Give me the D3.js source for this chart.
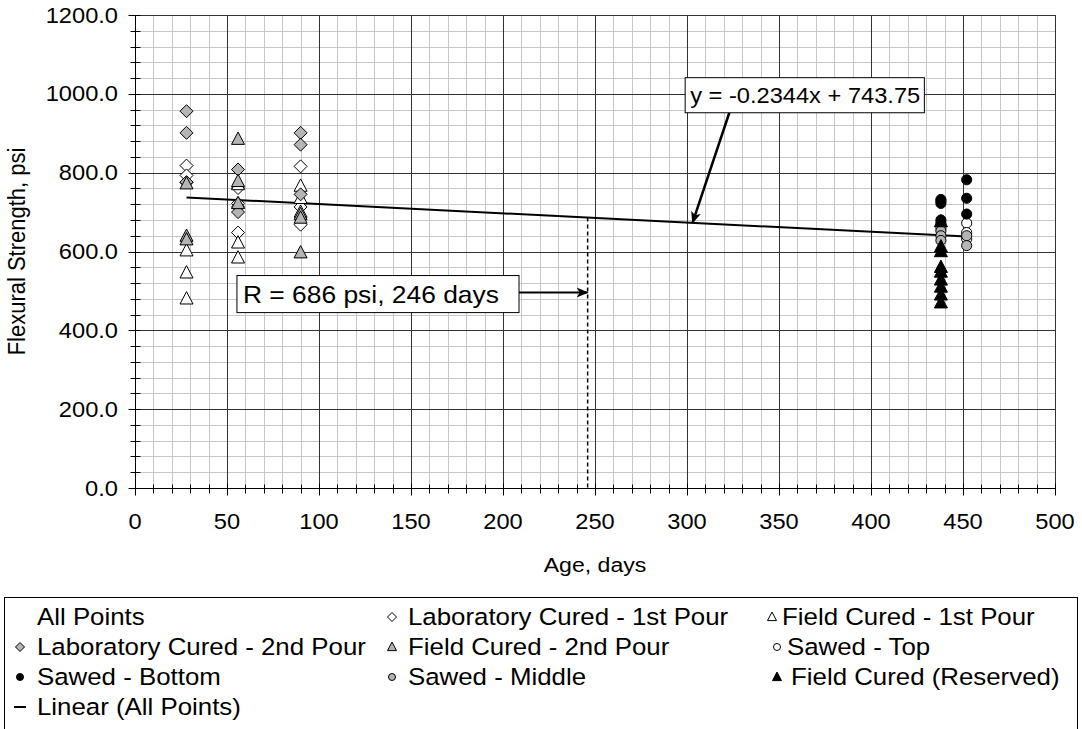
<!DOCTYPE html>
<html>
<head>
<meta charset="utf-8">
<script src="https://cdn.jsdelivr.net/npm/d3@7"></script>
<style>
  html, body { margin: 0; padding: 0; background: #fff; }
  svg { display: block; font-family: "Liberation Sans", Arial, sans-serif; }
</style>
</head>
<body>
<svg id="chart" width="1082" height="729"></svg>
<script>
// ---- Data: [age in days, flexural strength in psi] ----
const labCured1st   = [[28, 818], [28, 793], [28, 775], [56, 761], [56, 722], [56, 648], [90, 816], [90, 713], [90, 668]];
const fieldCured1st = [[28, 602], [28, 546], [28, 480], [56, 770], [56, 622], [56, 584], [90, 766], [90, 735], [90, 700]];
const labCured2nd   = [[28, 956], [28, 901], [28, 776], [56, 808], [56, 713], [56, 700], [90, 901], [90, 871], [90, 745]];
const fieldCured2nd = [[28, 772], [28, 639], [28, 630], [56, 885], [56, 778], [56, 722], [90, 694], [90, 685], [90, 597]];
const sawedTop      = [[438, 728], [438, 660], [452, 672], [452, 648], [452, 632]];
const sawedBottom   = [[438, 732], [438, 722], [438, 680], [438, 672], [452, 782], [452, 735], [452, 695]];
const sawedMiddle   = [[438, 652], [438, 640], [438, 628], [452, 640], [452, 615]];
const fieldReserved = [[438, 676], [438, 612], [438, 600], [438, 560], [438, 548], [438, 528], [438, 510], [438, 490], [438, 470]];

// Linear trend of all points, as stated on the chart
const trendSlope = -0.2344;
const trendIntercept = 743.75;
const trendRange = [28, 452];
const equationLabel = "y = -0.2344x + 743.75";

// Retention point
const retentionStrength = 686;
const retentionAge = 246;
const retentionLabel = "R = 686 psi, 246 days";

// Axes
const xTicks = [0, 50, 100, 150, 200, 250, 300, 350, 400, 450, 500];
const yTicks = [0, 200, 400, 600, 800, 1000, 1200];
const xMinorStep = 10;
const yMinorStep = 40;
const xTitle = "Age, days";
const yTitle = "Flexural Strength, psi";

// Legend entries, laid out row by row in three columns
const legendItems = [
  { name: "All Points", marker: null },
  { name: "Laboratory Cured - 1st Pour", marker: "diamondWhite" },
  { name: "Field Cured - 1st Pour", marker: "triangleWhite" },
  { name: "Laboratory Cured - 2nd Pour", marker: "diamondGray" },
  { name: "Field Cured - 2nd Pour", marker: "triangleGray" },
  { name: "Sawed - Top", marker: "circleWhite" },
  { name: "Sawed - Bottom", marker: "circleBlack" },
  { name: "Sawed - Middle", marker: "circleGray" },
  { name: "Field Cured (Reserved)", marker: "triangleBlack" },
  { name: "Linear (All Points)", marker: "line" }
];

// ---- Drawing ----
const SX = 1.1; // horizontal text stretch
const svg = d3.select("#chart");
const W = 1082, H = 729;
const plot = { left: 135, right: 1055, top: 15, bottom: 488 };

const x = d3.scaleLinear().domain([0, 500]).range([plot.left, plot.right]);
const y = d3.scaleLinear().domain([0, 1200]).range([plot.bottom, plot.top]);
const px = v => Math.round(x(v)) + 0.5;
const py = v => Math.round(y(v)) + 0.5;

function label(g, str, tx, ty, size, anchor, rotate) {
  return g.append("text")
    .attr("transform", `translate(${tx},${ty}) scale(${SX},1)` + (rotate ? ` rotate(${rotate})` : ""))
    .attr("text-anchor", anchor || "start")
    .style("font-size", size + "px")
    .attr("fill", "#000")
    .text(str);
}

const markerStyles = {
  diamondWhite:  { shape: "diamond",  fill: "#ffffff" },
  diamondGray:   { shape: "diamond",  fill: "#b4b4b4" },
  triangleWhite: { shape: "triangle", fill: "#ffffff" },
  triangleGray:  { shape: "triangle", fill: "#b4b4b4" },
  triangleBlack: { shape: "triangle", fill: "#000000" },
  circleWhite:   { shape: "circle",   fill: "#ffffff" },
  circleGray:    { shape: "circle",   fill: "#b4b4b4" },
  circleBlack:   { shape: "circle",   fill: "#000000" }
};

function shapePath(shape, s) {
  if (shape === "diamond") return `M0,${-s}L${s},0L0,${s}L${-s},0Z`;
  if (shape === "triangle") return `M0,${-s * 1.1}L${s},${s * 0.8}L${-s},${s * 0.8}Z`;
  const r = s * 0.78;
  return `M${r},0A${r},${r} 0 1,1 ${-r},0A${r},${r} 0 1,1 ${r},0Z`;
}

svg.append("rect").attr("width", W).attr("height", H).attr("fill", "#fff");

// Gridlines
const grid = svg.append("g");
const xMinor = d3.range(0, 501, xMinorStep).filter(v => !xTicks.includes(v));
const yMinor = d3.range(0, 1201, yMinorStep).filter(v => !yTicks.includes(v));

grid.selectAll(".vminor").data(xMinor).join("line")
  .attr("x1", px).attr("x2", px).attr("y1", plot.top).attr("y2", plot.bottom)
  .attr("stroke", "#c8c8c8").attr("stroke-width", 1);
grid.selectAll(".hminor").data(yMinor).join("line")
  .attr("y1", py).attr("y2", py).attr("x1", plot.left).attr("x2", plot.right)
  .attr("stroke", "#c8c8c8").attr("stroke-width", 1);
grid.selectAll(".vmajor").data(xTicks.filter(v => v > 0)).join("line")
  .attr("x1", px).attr("x2", px).attr("y1", plot.top).attr("y2", plot.bottom)
  .attr("stroke", "#333").attr("stroke-width", 1);
grid.selectAll(".hmajor").data(yTicks.filter(v => v > 0)).join("line")
  .attr("y1", py).attr("y2", py).attr("x1", plot.left).attr("x2", plot.right)
  .attr("stroke", "#333").attr("stroke-width", 1);

// Axes with cross ticks
const axes = svg.append("g").attr("stroke", "#000").attr("stroke-width", 1);
const x0 = px(0), y0 = py(0);
axes.append("line").attr("x1", x0).attr("x2", px(500)).attr("y1", y0).attr("y2", y0);
axes.append("line").attr("x1", x0).attr("x2", x0).attr("y1", py(1200)).attr("y2", y0);
axes.selectAll(".xt").data(d3.range(0, 501, xMinorStep)).join("line")
  .attr("x1", px).attr("x2", px)
  .attr("y1", d => y0 - (xTicks.includes(d) ? 5 : 4))
  .attr("y2", d => y0 + (xTicks.includes(d) ? 7 : 5));
axes.selectAll(".yt").data(d3.range(0, 1201, yMinorStep)).join("line")
  .attr("y1", py).attr("y2", py)
  .attr("x1", d => x0 - (yTicks.includes(d) ? 7 : 5))
  .attr("x2", d => x0 + 5);

const tickLabels = svg.append("g");
xTicks.forEach(v => label(tickLabels, String(v), x(v), 529, 21.5, "middle"));
yTicks.forEach(v => label(tickLabels, d3.format(".1f")(v), 118, y(v) + 7.5, 21.5, "end"));

label(svg, xTitle, (plot.left + plot.right) / 2, 572, 21, "middle");
label(svg, yTitle, 25, (plot.top + plot.bottom) / 2, 22, "middle", -90);

// Trend line
const trend = v => trendSlope * v + trendIntercept;
svg.append("path")
  .datum(trendRange)
  .attr("d", d3.line().x(d => x(d)).y(d => y(trend(d))))
  .attr("fill", "none").attr("stroke", "#000").attr("stroke-width", 2);

// Data markers
const seriesList = [
  { data: labCured1st, style: "diamondWhite" },
  { data: fieldCured1st, style: "triangleWhite" },
  { data: labCured2nd, style: "diamondGray" },
  { data: fieldCured2nd, style: "triangleGray" },
  { data: sawedTop, style: "circleWhite" },
  { data: sawedBottom, style: "circleBlack" },
  { data: sawedMiddle, style: "circleGray" },
  { data: fieldReserved, style: "triangleBlack" }
];
const marks = svg.append("g");
seriesList.forEach(s => {
  const st = markerStyles[s.style];
  marks.append("g").selectAll("path").data(s.data).join("path")
    .attr("transform", d => `translate(${x(d[0])},${y(d[1])})`)
    .attr("d", shapePath(st.shape, 6.5))
    .attr("fill", st.fill).attr("stroke", "#000").attr("stroke-width", 1);
});

// Arrowhead
const defs = svg.append("defs");
defs.append("marker").attr("id", "head")
  .attr("viewBox", "0 0 12 10").attr("refX", 11).attr("refY", 5)
  .attr("markerWidth", 12).attr("markerHeight", 10)
  .attr("markerUnits", "userSpaceOnUse").attr("orient", "auto")
  .append("path").attr("d", "M0,0L12,5L0,10L3,5Z").attr("fill", "#000");

// Retention: dashed drop line and label
svg.append("line")
  .attr("x1", x(retentionAge)).attr("x2", x(retentionAge))
  .attr("y1", y(retentionStrength)).attr("y2", y(0))
  .attr("stroke", "#000").attr("stroke-width", 1.5).attr("stroke-dasharray", "4,3");

const rBox = { x0: 55.4, x1: 208.7, top: 539, bottom: 445, arrowAt: 496 };
svg.append("rect")
  .attr("x", x(rBox.x0)).attr("y", y(rBox.top))
  .attr("width", x(rBox.x1) - x(rBox.x0)).attr("height", y(rBox.bottom) - y(rBox.top))
  .attr("fill", "#fff").attr("stroke", "#000").attr("stroke-width", 1);
label(svg, retentionLabel, x(rBox.x0) + 6, y(rBox.bottom) - 10, 24, "start");
svg.append("line")
  .attr("x1", x(rBox.x1)).attr("y1", y(rBox.arrowAt))
  .attr("x2", x(retentionAge)).attr("y2", y(rBox.arrowAt))
  .attr("stroke", "#000").attr("stroke-width", 2).attr("marker-end", "url(#head)");

// Trend equation label with arrow to the line
const eqBox = { x0: 299, x1: 429, top: 1041, bottom: 952, arrowFrom: 323, arrowTo: 303 };
svg.append("line")
  .attr("x1", x(eqBox.arrowFrom)).attr("y1", y(eqBox.bottom))
  .attr("x2", x(eqBox.arrowTo)).attr("y2", y(trend(eqBox.arrowTo)))
  .attr("stroke", "#000").attr("stroke-width", 2.5).attr("marker-end", "url(#head)");
svg.append("rect")
  .attr("x", x(eqBox.x0)).attr("y", y(eqBox.top))
  .attr("width", x(eqBox.x1) - x(eqBox.x0)).attr("height", y(eqBox.bottom) - y(eqBox.top))
  .attr("fill", "#fff").attr("stroke", "#000").attr("stroke-width", 1);
label(svg, equationLabel, x(eqBox.x0) + 5, y(eqBox.bottom) - 10, 21.5, "start");

// Legend
const legend = svg.append("g");
legend.append("rect").attr("x", 4.5).attr("y", 597.5).attr("width", 1073).attr("height", 160)
  .attr("fill", "#fff").attr("stroke", "#000").attr("stroke-width", 1);
const colSym = [[20, 392, 772], [20, 392, 777], [20, 392, 777], [20, 392, 777]];
const colText = [[37, 408, 782], [37, 408, 787], [37, 408, 791], [37, 408, 791]];
const rowY = [617, 647, 677, 707];
legendItems.forEach((item, i) => {
  const r = Math.floor(i / 3), c = i % 3;
  const cy = rowY[r];
  const sx = colSym[r][c];
  if (item.marker === "line") {
    legend.append("line").attr("x1", sx - 6).attr("x2", sx + 6)
      .attr("y1", cy).attr("y2", cy).attr("stroke", "#000").attr("stroke-width", 2);
  } else if (item.marker) {
    const st = markerStyles[item.marker];
    legend.append("path").attr("transform", `translate(${sx},${cy})`)
      .attr("d", shapePath(st.shape, 4.5))
      .attr("fill", st.fill).attr("stroke", "#000").attr("stroke-width", 1);
  }
  label(legend, item.name, colText[r][c], cy + 7.5, 23.5, "start");
});
</script>
</body>
</html>
